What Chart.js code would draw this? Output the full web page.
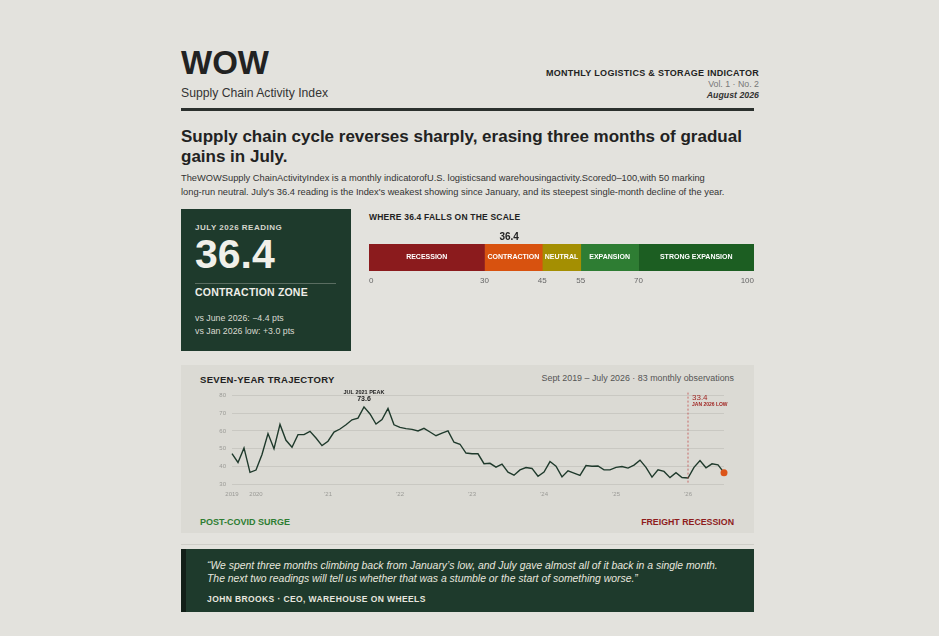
<!DOCTYPE html>
<html>
<head>
<meta charset="utf-8">
<script src="https://cdn.jsdelivr.net/npm/chart.js@4.4.1/dist/chart.umd.min.js"></script>
<style>
  html, body { margin:0; padding:0; }
  body { width:939px; height:636px; background:#e3e2dd; font-family:"Liberation Sans", Arial, sans-serif; color:#222; position:relative; overflow:hidden; }
  .abs { position:absolute; }
  #brand { left:181px; top:46px; font-size:33px; font-weight:700; color:#222; line-height:1; }
  #sub { left:181px; top:86px; font-size:12.2px; color:#333; }
  #mast { right:180px; top:68px; text-align:right; line-height:11px; }
  #mast .t { font-size:9px; font-weight:700; letter-spacing:.3px; color:#222; }
  #mast .v { font-size:8.8px; color:#777; }
  #mast .d { font-size:8.8px; font-weight:700; font-style:italic; color:#333; }
  #rule { left:181px; top:108px; width:573px; height:2.5px; background:#2b302d; }
  #headline { left:181px; top:127px; width:590px; font-size:17px; font-weight:700; line-height:20px; color:#222; }
  #lede { left:181px; top:172px; width:580px; font-size:9.3px; line-height:13.5px; color:#333; }
  #kpi { left:181px; top:209px; width:170px; height:142px; background:#1e3a2c; color:#efeee8; }
  #kpi .lab { position:absolute; left:14px; top:14px; font-size:8px; font-weight:700; letter-spacing:.5px; color:#d5d6cc; }
  #kpi .big { position:absolute; left:14px; top:25px; font-size:41px; font-weight:700; line-height:1; color:#f1f0ea; }
  #kpi .hr { position:absolute; left:14px; top:74px; width:141px; height:1px; background:#5a6d61; }
  #kpi .zone { position:absolute; left:14px; top:77px; font-size:10.5px; font-weight:700; letter-spacing:.2px; }
  #kpi .cmp { position:absolute; left:14px; top:103px; font-size:8.8px; line-height:13px; color:#d8d9d0; }
  #scaleTitle { left:369px; top:212px; font-size:8.5px; font-weight:700; letter-spacing:.2px; color:#222; }
  #scaleBox { left:360px; top:228px; width:403px; height:60px; }
  #card { left:181px; top:365px; width:573px; height:168px; background:#dbdad4; }
  #cardTitle { left:200px; top:374px; font-size:9.5px; font-weight:700; letter-spacing:.3px; color:#222; }
  #cardSub { right:205px; top:373px; font-size:8.9px; color:#555; }
  #lineBox { left:205px; top:386px; width:535px; height:116px; }
  #tagL { left:200px; top:517px; font-size:9px; font-weight:700; color:#2e7d32; }
  #tagR { right:205px; top:517px; font-size:8.8px; font-weight:700; color:#8e1c1c; }
  #sep { left:181px; top:544px; width:573px; height:1px; background:#cfcec8; }
  #quote { left:181px; top:549px; width:568px; height:63px; background:#1e3a2c; border-left:5px solid #121f18; }
  #quote .q { position:absolute; left:21px; top:10px; font-size:10.4px; font-style:italic; line-height:13px; color:#e7e6df; }
  #quote .a { position:absolute; left:21px; top:45px; font-size:8.5px; font-weight:700; letter-spacing:.4px; color:#e7e6df; }
</style>
</head>
<body>
<div class="abs" id="brand">WOW</div>
<div class="abs" id="sub">Supply Chain Activity Index</div>
<div class="abs" id="mast">
  <div class="t">MONTHLY LOGISTICS &amp; STORAGE INDICATOR</div>
  <div class="v">Vol. 1 · No. 2</div>
  <div class="d">August 2026</div>
</div>
<div class="abs" id="rule"></div>
<div class="abs" id="headline">Supply chain cycle reverses sharply, erasing three months of gradual gains in July.</div>
<div class="abs" id="lede">TheWOWSupply ChainActivityIndex is a monthly indicatorofU.S. logisticsand warehousingactivity.Scored0–100,with 50 marking<br>long-run neutral. July's 36.4 reading is the Index's weakest showing since January, and its steepest single-month decline of the year.</div>

<div class="abs" id="kpi">
  <div class="lab">JULY 2026 READING</div>
  <div class="big">36.4</div>
  <div class="hr"></div>
  <div class="zone">CONTRACTION ZONE</div>
  <div class="cmp">vs June 2026: −4.4 pts<br>vs Jan 2026 low: +3.0 pts</div>
</div>

<div class="abs" id="scaleTitle">WHERE 36.4 FALLS ON THE SCALE</div>
<div class="abs" id="scaleBox"><canvas id="scaleChart"></canvas></div>

<div class="abs" id="card"></div>
<div class="abs" id="cardTitle">SEVEN-YEAR TRAJECTORY</div>
<div class="abs" id="cardSub">Sept 2019 – July 2026 · 83 monthly observations</div>
<div class="abs" id="lineBox"><canvas id="trendChart"></canvas></div>
<div class="abs" id="tagL">POST-COVID SURGE</div>
<div class="abs" id="tagR">FREIGHT RECESSION</div>

<div class="abs" id="sep"></div>
<div class="abs" id="quote">
  <div class="q">“We spent three months climbing back from January’s low, and July gave almost all of it back in a single month.<br>The next two readings will tell us whether that was a stumble or the start of something worse.”</div>
  <div class="a">JOHN BROOKS · CEO, WAREHOUSE ON WHEELS</div>
</div>

<script>
// ---- data ----
var currentReading = 36.4;
var zoneNames  = ["RECESSION", "CONTRACTION", "NEUTRAL", "EXPANSION", "STRONG EXPANSION"];
var zoneBounds = [0, 30, 45, 55, 70, 100];
var zoneColors = ["#8b1b1d", "#d8520f", "#a48f02", "#2e7d33", "#1c5e22"];

// monthly index, Sept 2019 .. July 2026 (83 readings)
var indexValues = [
  47.2, 42.2, 50.4, 36.6,
  37.9, 46.7, 58.5, 50.0, 63.7, 54.7, 50.8, 57.9, 57.9, 59.8, 56.0, 51.7,
  54.2, 59.4, 61.1, 63.5, 66.3, 67.3, 73.6, 69.6, 63.9, 66.4, 72.7, 63.5,
  62.0, 61.3, 60.9, 60.0, 61.5, 59.4, 57.3, 58.8, 60.0, 53.6, 52.5, 47.5,
  47.1, 47.1, 41.5, 41.7, 39.5, 41.2, 36.7, 35.0, 38.0, 39.3, 38.8, 34.4,
  36.8, 42.7, 40.1, 34.0, 37.5, 36.2, 34.9, 40.4, 40.0, 40.2, 38.0, 38.0,
  39.4, 39.9, 39.0, 40.7, 43.5, 39.4, 33.9, 38.0, 37.1, 33.6, 36.4, 33.7,
  33.4, 39.4, 43.3, 39.2, 41.4, 40.8, 36.4
];
var yTicks = [30, 40, 50, 60, 70, 80];
var xTickIndex = [0, 4, 16, 28, 40, 52, 64, 76];
var xTickText  = ["2019", "2020", "’21", "’22", "’23", "’24", "’25", "’26"];

var peakIndex = 22, peakLabel = "JUL 2021 PEAK";
var lowIndex = 76, lowLabel = "JAN 2026 LOW";

var monthNames = ["Jan","Feb","Mar","Apr","May","Jun","Jul","Aug","Sep","Oct","Nov","Dec"];
var monthLabels = [];
for (var i = 0; i < indexValues.length; i++) {
  var m = 8 + i;
  monthLabels.push(monthNames[m % 12] + " " + (2019 + Math.floor(m / 12)));
}

Chart.defaults.font.family = '"Liberation Sans", Arial, sans-serif';

// ---- scale bar ----
var zoneLabels = {
  id: "zoneLabels",
  afterDatasetsDraw: function(chart) {
    var c = chart.ctx;
    c.save();
    c.fillStyle = "#ffffff";
    c.font = "bold 7px 'Liberation Sans', Arial, sans-serif";
    c.textAlign = "center";
    c.textBaseline = "middle";
    chart.data.datasets.forEach(function(ds, i) {
      var el = chart.getDatasetMeta(i).data[0];
      c.fillText(ds.label, (el.x + el.base) / 2, el.y);
    });
    var xs = chart.scales.x;
    c.fillStyle = "#222";
    c.font = "bold 10px 'Liberation Sans', Arial, sans-serif";
    c.fillText(currentReading.toFixed(1), xs.getPixelForValue(currentReading), chart.chartArea.top - 7);
    c.restore();
  }
};

new Chart(document.getElementById("scaleChart"), {
  type: "bar",
  data: {
    labels: ["scale"],
    datasets: zoneNames.map(function(name, i) {
      return { label: name, data: [[zoneBounds[i], zoneBounds[i + 1]]], backgroundColor: zoneColors[i],
               barPercentage: 1, categoryPercentage: 1, borderWidth: 0, borderSkipped: false };
    })
  },
  options: {
    indexAxis: "y",
    responsive: true, maintainAspectRatio: false, animation: false,
    layout: { padding: { top: 16, left: 9, right: 9 } },
    plugins: { legend: { display: false }, tooltip: { enabled: false } },
    scales: {
      y: { display: false, stacked: true },
      x: {
        min: 0, max: 100,
        grid: { display: false, drawTicks: false },
        border: { display: false },
        afterBuildTicks: function(s) { s.ticks = zoneBounds.map(function(v) { return { value: v }; }); },
        afterFit: function(s) { s.height = 17; },
        ticks: { font: { size: 8 }, color: "#666", padding: 5, align: "inner", autoSkip: false, maxRotation: 0 }
      }
    }
  },
  plugins: [zoneLabels]
});

// ---- trajectory ----
var trendNotes = {
  id: "trendNotes",
  afterDatasetsDraw: function(chart) {
    var c = chart.ctx, xs = chart.scales.x, ys = chart.scales.y, area = chart.chartArea;
    c.save();
    // peak note
    var px = xs.getPixelForValue(peakIndex), py = ys.getPixelForValue(indexValues[peakIndex]);
    c.textAlign = "center";
    c.textBaseline = "middle";
    c.fillStyle = "#222";
    c.font = "bold 5.5px 'Liberation Sans', Arial, sans-serif";
    c.fillText(peakLabel, px, py - 14);
    c.font = "bold 7px 'Liberation Sans', Arial, sans-serif";
    c.fillText(indexValues[peakIndex].toFixed(1), px, py - 8);
    // low marker
    var lx = xs.getPixelForValue(lowIndex);
    c.strokeStyle = "rgba(190,60,60,0.7)";
    c.lineWidth = 1;
    c.setLineDash([2, 2]);
    c.beginPath();
    c.moveTo(lx, area.top - 3);
    c.lineTo(lx, area.bottom);
    c.stroke();
    c.setLineDash([]);
    c.textAlign = "left";
    c.fillStyle = "#9e1f1c";
    c.font = "8px 'Liberation Sans', Arial, sans-serif";
    c.fillText(indexValues[lowIndex].toFixed(1), lx + 4, area.top + 2);
    c.font = "bold 5px 'Liberation Sans', Arial, sans-serif";
    c.fillText(lowLabel, lx + 4, area.top + 9);
    c.restore();
  }
};

var lastIndex = indexValues.length - 1;
new Chart(document.getElementById("trendChart"), {
  type: "line",
  data: {
    labels: monthLabels,
    datasets: [{
      data: indexValues,
      borderColor: "#1f3a2c",
      borderWidth: 1.4,
      tension: 0,
      clip: false,
      pointRadius: function(ctx) { return ctx.dataIndex === lastIndex ? 3.5 : 0; },
      pointBackgroundColor: "#dc5419",
      pointBorderWidth: 0
    }]
  },
  options: {
    responsive: true, maintainAspectRatio: false, animation: false,
    layout: { padding: { top: 9, right: 16, left: 0, bottom: 0 } },
    plugins: { legend: { display: false }, tooltip: { enabled: false } },
    scales: {
      x: {
        grid: { display: false, drawTicks: false },
        border: { display: false },
        afterFit: function(s) { s.height = 18; },
        ticks: {
          autoSkip: false, maxRotation: 0, padding: 7,
          font: { size: 6 }, color: "#9a9a96",
          callback: function(v, i) {
            var k = xTickIndex.indexOf(i);
            return k >= 0 ? xTickText[k] : "";
          }
        }
      },
      y: {
        min: 30, max: 80,
        grid: { color: "#c9c8c2", lineWidth: 1, drawTicks: false },
        border: { display: false },
        afterBuildTicks: function(s) { s.ticks = yTicks.map(function(v) { return { value: v }; }); },
        afterFit: function(s) { s.width = 27; },
        ticks: { font: { size: 6 }, color: "#9a9a96", padding: 6 }
      }
    }
  },
  plugins: [trendNotes]
});
</script>
</body>
</html>
